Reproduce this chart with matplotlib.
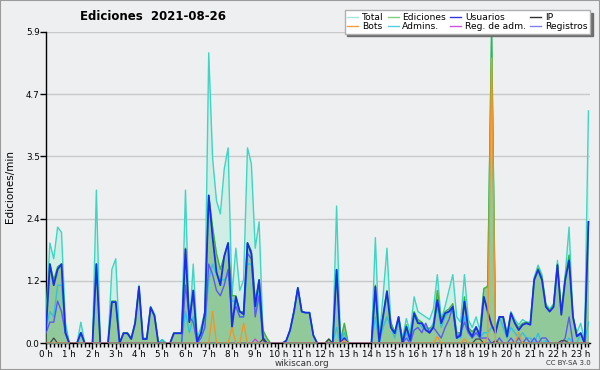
import numpy as np
import matplotlib.pyplot as plt
from matplotlib.lines import Line2D
from matplotlib.patches import Rectangle

# edits per minute, one value every 10 minutes (00:00 -> 23:20)
total = [
    0.5, 1.9, 1.6, 2.2, 2.1, 0.4,
    0, 0, 0, 0.4, 0, 0,
    0, 2.9, 0, 0, 0, 1.4,
    1.6, 0, 0.2, 0.2, 0.1, 0.4,
    1.1, 0.1, 0.1, 0.7, 0.55, 0,
    0.07, 0, 0, 0.2, 0.2, 0.2,
    2.9, 0.25, 1.5, 0.1, 0.3, 0.6,
    5.5, 3.5, 2.7, 2.45, 3.3, 3.7,
    0.9, 1.8, 1.0, 1.2, 3.7, 3.4,
    1.8, 2.3, 0.2, 0.05, 0, 0,
    0, 0, 0.05, 0.25, 0.6, 1.05,
    0.6, 0.58, 0.58, 0.15, 0, 0,
    0, 0.08, 0, 2.6, 0, 0.3,
    0, 0, 0, 0, 0, 0,
    0, 2.0, 0.1, 0.9, 1.8, 0.38,
    0.2, 0.5, 0.1, 0.47, 0.2, 0.88,
    0.6, 0.55, 0.5, 0.45, 0.65, 1.3,
    0.45, 0.7, 1.0, 1.3, 0.5, 0.4,
    1.3, 0.45, 0.3, 0.5, 0.25, 1.0,
    1.1, 5.9, 0.3, 0.5, 0.5, 0.2,
    0.6, 0.45, 0.35, 0.45, 0.4, 0.4,
    1.25, 1.48, 1.3, 0.75, 0.65, 0.75,
    1.57, 0.6, 1.3, 2.2, 0.5, 0.2,
    0.38, 0.05, 4.4,
]
ediciones = [
    0.4, 1.5, 1.2, 1.45, 1.5, 0.3,
    0, 0, 0, 0.2, 0, 0,
    0, 1.5, 0, 0, 0, 0.8,
    0.8, 0, 0.2, 0.2, 0.1, 0.38,
    1.07, 0.08, 0.08, 0.68, 0.52, 0,
    0.06, 0, 0, 0.19, 0.19, 0.19,
    1.8, 0.4, 1.0, 0.05, 0.2, 0.6,
    2.8, 2.2, 1.7, 1.4, 1.65, 1.9,
    0.9, 0.9, 0.6, 0.6, 1.9, 1.75,
    0.8, 1.2, 0.25, 0.1, 0, 0,
    0, 0, 0.05, 0.25, 0.6, 1.05,
    0.6, 0.58, 0.58, 0.15, 0, 0,
    0, 0.08, 0, 1.4, 0.05, 0.38,
    0, 0, 0, 0, 0, 0,
    0, 1.1, 0.05, 0.55, 1.0, 0.4,
    0.2, 0.5, 0.05, 0.35, 0.1, 0.6,
    0.45, 0.4, 0.3, 0.28, 0.35, 1.0,
    0.45, 0.6, 0.65, 0.75, 0.2, 0.2,
    0.88, 0.3, 0.22, 0.3, 0.2, 1.04,
    1.07, 5.9, 0.2, 0.5, 0.5, 0.15,
    0.57, 0.4, 0.3, 0.38, 0.4, 0.38,
    1.22, 1.42, 1.25, 0.72, 0.62, 0.72,
    1.5, 0.56, 1.25, 1.67, 0.52, 0.15,
    0.2, 0.05, 2.3,
]
usuarios = [
    0.25, 1.5, 1.1, 1.4, 1.5, 0.2,
    0, 0, 0, 0.2, 0, 0,
    0, 1.5, 0, 0, 0, 0.78,
    0.78, 0, 0.19, 0.19, 0.08, 0.38,
    1.07, 0.08, 0.08, 0.68, 0.52, 0,
    0, 0, 0, 0.19, 0.19, 0.19,
    1.78, 0.4, 1.0, 0.03, 0.19, 0.57,
    2.8, 2.0, 1.35, 1.1, 1.65, 1.9,
    0.3, 0.88, 0.6, 0.55, 1.9, 1.7,
    0.7, 1.2, 0.1, 0, 0, 0,
    0, 0, 0.05, 0.25, 0.6, 1.05,
    0.6, 0.58, 0.58, 0.15, 0, 0,
    0, 0, 0, 1.39, 0, 0.1,
    0, 0, 0, 0, 0, 0,
    0, 1.07, 0.03, 0.5, 0.98, 0.3,
    0.19, 0.5, 0, 0.31, 0.06, 0.57,
    0.38, 0.38, 0.25, 0.2, 0.31, 0.82,
    0.38, 0.57, 0.6, 0.69, 0.1, 0.15,
    0.79, 0.25, 0.13, 0.31, 0.13, 0.88,
    0.6, 0.35, 0.19, 0.5, 0.5, 0.13,
    0.57, 0.38, 0.25, 0.35, 0.38, 0.35,
    1.2, 1.39, 1.2, 0.69, 0.6, 0.69,
    1.48, 0.54, 1.2, 1.57, 0.5, 0.13,
    0.19, 0, 2.3,
]
admins = [
    0.3, 0.6, 0.5, 1.1, 1.1, 0.3,
    0, 0, 0, 0.2, 0, 0,
    0, 0, 0, 0, 0, 0,
    0, 0, 0, 0, 0, 0,
    0, 0, 0, 0, 0, 0,
    0.07, 0, 0, 0, 0, 0,
    0.6, 0.2, 0.5, 0, 0.1, 0.3,
    1.2, 1.5, 1.3, 1.2, 1.2, 1.3,
    0.8, 0.8, 0.5, 0.5, 1.5, 1.5,
    0.6, 1.0, 0.1, 0, 0, 0,
    0, 0, 0.05, 0.25, 0.6, 1.05,
    0.6, 0.58, 0.58, 0.15, 0, 0,
    0, 0, 0, 0.3, 0, 0.2,
    0, 0, 0, 0, 0, 0,
    0, 0.5, 0, 0.3, 0.5, 0.3,
    0.1, 0.4, 0, 0.2, 0, 0.5,
    0.4, 0.3, 0.3, 0.2, 0.4, 0.7,
    0.3, 0.5, 0.6, 0.6, 0.2, 0.1,
    0.5, 0.2, 0.1, 0.2, 0.1, 0.2,
    0.2, 0.3, 0.3, 0.5, 0.3, 0.1,
    0.3, 0.2, 0.1, 0.2, 0.1, 0.1,
    0, 0.19, 0, 0.05, 0, 0,
    0, 0, 0, 0.1, 0, 0,
    0.2, 0, 0.4,
]
registros = [
    0.2, 0.4, 0.4, 0.8, 0.6, 0.2,
    0, 0, 0, 0, 0, 0,
    0, 0, 0, 0, 0, 0,
    0, 0, 0, 0, 0, 0,
    0, 0, 0, 0, 0, 0,
    0, 0, 0, 0, 0, 0,
    1.1, 0.5, 0.4, 0, 0.1, 0.3,
    1.5, 1.3, 1.0, 0.9, 1.1, 1.4,
    0.5, 0.7, 0.5, 0.5, 1.7, 1.6,
    0.5, 0.9, 0.05, 0, 0, 0,
    0, 0, 0, 0, 0, 0,
    0, 0, 0, 0, 0, 0,
    0, 0, 0, 0, 0, 0,
    0, 0, 0, 0, 0, 0,
    0, 0, 0, 0, 0, 0,
    0, 0, 0, 0.1, 0, 0.25,
    0.3, 0.2, 0.38, 0.2, 0.3, 0.2,
    0.1, 0.3, 0.45, 0.7, 0.1, 0.2,
    0.4, 0.2, 0.1, 0.2, 0.1, 0.1,
    0.1, 0, 0, 0.1, 0, 0,
    0.1, 0, 0.1, 0, 0.1, 0,
    0.1, 0, 0.1, 0.1, 0, 0,
    0, 0, 0.1, 0.5, 0, 0,
    0, 0, 0,
]
bots = [
    0, 0, 0, 0, 0, 0,
    0, 0, 0, 0, 0, 0,
    0, 0, 0, 0, 0, 0,
    0, 0, 0, 0, 0, 0,
    0, 0, 0, 0, 0, 0,
    0, 0, 0, 0, 0, 0,
    0, 0, 0, 0, 0, 0,
    0, 0.6, 0, 0, 0, 0,
    0.3, 0, 0, 0.38, 0, 0,
    0, 0, 0, 0, 0, 0,
    0, 0, 0, 0, 0, 0,
    0, 0, 0, 0, 0, 0,
    0, 0, 0, 0, 0, 0.06,
    0, 0, 0, 0, 0, 0,
    0, 0, 0, 0, 0, 0,
    0, 0, 0, 0, 0, 0,
    0, 0, 0, 0, 0, 0.13,
    0, 0, 0, 0, 0, 0,
    0.08, 0, 0, 0, 0, 0,
    0.1, 5.4, 0, 0, 0, 0,
    0, 0, 0.2, 0, 0, 0,
    0, 0, 0, 0, 0, 0,
    0, 0, 0, 0, 0, 0,
    0, 0, 0,
]
reg_adm = [
    0, 0, 0, 0, 0, 0,
    0, 0, 0, 0, 0, 0,
    0, 0, 0, 0, 0, 0,
    0, 0, 0, 0, 0, 0,
    0, 0, 0, 0, 0, 0,
    0, 0, 0, 0, 0, 0,
    0, 0, 0, 0, 0, 0,
    0, 0, 0, 0, 0, 0,
    0, 0, 0, 0, 0, 0,
    0.08, 0, 0, 0, 0, 0,
    0, 0, 0, 0, 0, 0,
    0, 0, 0, 0, 0, 0,
    0, 0, 0, 0, 0, 0,
    0, 0, 0, 0, 0, 0,
    0, 0, 0, 0, 0, 0,
    0, 0, 0, 0, 0, 0,
    0, 0, 0, 0, 0, 0,
    0, 0, 0, 0, 0, 0,
    0, 0, 0, 0, 0, 0,
    0, 0, 0, 0, 0, 0,
    0, 0, 0, 0, 0, 0,
    0, 0, 0, 0, 0, 0,
    0, 0, 0, 0, 0, 0,
    0, 0, 0,
]
ip = [
    0, 0, 0.1, 0, 0, 0,
    0, 0, 0, 0, 0, 0,
    0, 0, 0, 0, 0, 0,
    0, 0, 0, 0, 0, 0,
    0, 0, 0, 0, 0, 0,
    0, 0, 0, 0, 0, 0,
    0, 0, 0, 0, 0, 0,
    0, 0, 0, 0, 0, 0,
    0, 0, 0, 0, 0, 0,
    0, 0, 0.08, 0, 0, 0,
    0, 0, 0, 0, 0, 0,
    0, 0, 0, 0, 0, 0,
    0, 0.08, 0, 0, 0, 0,
    0, 0, 0, 0, 0, 0,
    0, 0, 0, 0, 0, 0,
    0, 0, 0, 0, 0, 0,
    0, 0, 0, 0, 0, 0,
    0, 0, 0, 0, 0, 0,
    0, 0, 0, 0.08, 0.08, 0,
    0, 0, 0.05, 0, 0, 0,
    0, 0, 0, 0, 0, 0,
    0, 0, 0, 0, 0, 0,
    0, 0.05, 0.05, 0, 0, 0,
    0, 0, 0,
]

hour_labels = [f"{h} h" for h in range(24)]
y_max = 5.9

BG = "#eeeff1"

x = np.arange(len(total)) / 6.0

fig = plt.figure(figsize=(6, 3.7), dpi=100, facecolor=BG)
fig.patches.append(Rectangle((0, 0), 1, 1, transform=fig.transFigure,
                             fill=False, edgecolor="#9a9a9a", lw=1.5))

ax = fig.add_axes([46 / 600, 1 - 343.3 / 370, 544 / 600, 311.6 / 370])
ax.set_facecolor(BG)

ax.fill_between(x, total, color="#d0eee6", lw=0, zorder=2)
ax.plot(x, total, color="#3dd5c4", lw=1, zorder=3)
ax.fill_between(x, ediciones, color="#8fc796", lw=0, alpha=0.95, zorder=4)
ax.plot(x, ediciones, color="#3cb43c", lw=1, zorder=5)
ax.plot(x, admins, color="#2ec3e0", lw=1, zorder=6)
ax.plot(x, registros, color="#5a5af0", lw=1, zorder=7)
ax.plot(x, usuarios, color="#1a2ee6", lw=1.3, zorder=8)
ax.plot(x, ip, color="#444444", lw=0.9, zorder=9)
ax.plot(x, reg_adm, color="#c040e0", lw=0.9, zorder=9)
ax.plot(x, bots, color="#f0962a", lw=1, zorder=10)

ax.set_xlim(0, 140.4 / 6)
ax.set_ylim(0, y_max)

yt = np.linspace(0, y_max, 6)
ax.set_yticks(yt)
ax.set_yticklabels([f"{v:.1f}" for v in yt])
ax.yaxis.grid(True, color="#c9c9c9", lw=1)
ax.set_axisbelow(True)

ax.set_xticks(np.arange(24))
ax.set_xticklabels(hour_labels)
ax.set_xticks(np.arange(0, 140.4 / 6, 1 / 6), minor=True)
ax.tick_params(axis="both", which="major", direction="out", length=4,
               width=1, color="black", labelsize=6.3, pad=0.5)
ax.tick_params(axis="x", which="minor", direction="out", length=3,
               width=1, color="black")

for s in ["top", "right"]:
    ax.spines[s].set_visible(False)
for s in ["left", "bottom"]:
    ax.spines[s].set_color("black")
    ax.spines[s].set_linewidth(1)

fig.text(153 / 600, 1 - 16 / 370, "Ediciones  2021-08-26", ha="center",
         va="center", fontsize=8.5, fontweight="bold")
fig.text(10 / 600, 1 - 187 / 370, "Ediciones/min", rotation=90,
         ha="center", va="center", fontsize=7.5)
fig.text(302 / 600, 1 - 363 / 370, "wikiscan.org", ha="center",
         va="center", fontsize=6.3, color="#333333")
fig.text(591 / 600, 1 - 363 / 370, "CC BY-SA 3.0", ha="right",
         va="center", fontsize=5, color="#333333")

handles = [
    Line2D([], [], color="#a8e6dd", lw=1),
    Line2D([], [], color="#f0a040", lw=1),
    Line2D([], [], color="#80d080", lw=1),
    Line2D([], [], color="#50d0e0", lw=1),
    Line2D([], [], color="#3535e0", lw=1),
    Line2D([], [], color="#d050e0", lw=1),
    Line2D([], [], color="#333333", lw=1),
    Line2D([], [], color="#8080f0", lw=1),
]
labels = ["Total", "Bots", "Ediciones", "Admins.", "Usuarios",
          "Reg. de adm.", "IP", "Registros"]
leg = fig.legend(handles, labels, ncol=4, loc="upper right",
                 bbox_to_anchor=(590 / 600, 1 - 10 / 370),
                 bbox_transform=fig.transFigure, borderaxespad=0,
                 fontsize=6.6, handlelength=1.2, handletextpad=0.4,
                 columnspacing=0.45, labelspacing=0.02, borderpad=0.3,
                 fancybox=False, framealpha=1, edgecolor="#b0b0b0",
                 shadow={"color": "#6e6e6e", "alpha": 1})

fig.savefig("out.png", dpi=100, facecolor=BG)
